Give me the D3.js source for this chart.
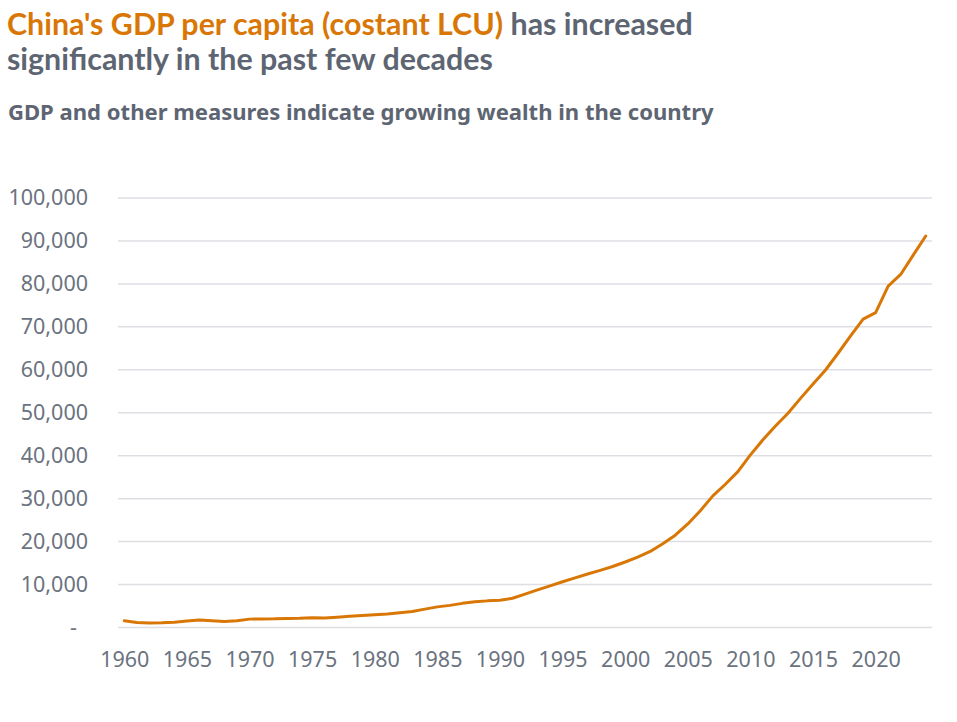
<!DOCTYPE html>
<html>
<head>
<meta charset="utf-8">
<script src="https://cdn.jsdelivr.net/npm/d3@7"></script>
<style>
  html, body { margin: 0; padding: 0; background: #fff; }
  svg { display: block; }
</style>
</head>
<body>
<svg id="chart" width="957" height="722"></svg>
<script>
const years = d3.range(1960, 2025);
const gdpPerCapita = [
  1580, 1150, 1030, 1100, 1250, 1500, 1750, 1580, 1400, 1550,
  1950, 2000, 2010, 2120, 2150, 2260, 2230, 2390, 2600, 2800,
  2980, 3120, 3420, 3730, 4280, 4800, 5150, 5620, 5980, 6200,
  6350, 6800, 7780, 8750, 9700, 10650, 11550, 12450, 13300, 14200,
  15250, 16400, 17700, 19500, 21500, 24100, 27200, 30650, 33350, 36300,
  40200, 43700, 46900, 49900, 53350, 56700, 59950, 63850, 67900, 71800,
  73300, 79500, 82200, 86700, 91150
];
const yTicks = [0, 10000, 20000, 30000, 40000, 50000, 60000, 70000, 80000, 90000, 100000];
const xTicks = [1960, 1965, 1970, 1975, 1980, 1985, 1990, 1995, 2000, 2005, 2010, 2015, 2020];

const titleOrange = "China's GDP per capita (costant LCU)";
const titleRest1 = " has increased";
const titleLine2 = "significantly in the past few decades";
const subtitle = "GDP and other measures indicate growing wealth in the country";

const ORANGE = "#d97706";
const GRAY = "#5d6572";
const TICK = "#6b7380";
const GRID = "#dedfe4";

const data = years.map((y, i) => ({ year: y, value: gdpPerCapita[i] }));

const svg = d3.select("#chart");
const plotLeft = 118, plotRight = 932, plotTop = 198, plotBottom = 627.5;

const x = d3.scalePoint().domain(years).range([plotLeft, plotRight]).padding(0.5);
const y = d3.scaleLinear().domain([0, 100000]).range([plotBottom, plotTop]);

// Titles
function fit(sel, target) {
  const w = sel.node().getComputedTextLength();
  const fs = parseFloat(sel.attr("font-size"));
  sel.attr("font-size", fs * target / w);
}
const t1 = svg.append("text")
  .attr("x", 7).attr("y", 35)
  .attr("font-family", "Lato, 'Open Sans', sans-serif")
  .attr("font-weight", 700).attr("font-size", 29);
t1.append("tspan").attr("fill", ORANGE).text(titleOrange);
t1.append("tspan").attr("fill", GRAY).text(titleRest1);
fit(t1, 686);
svg.append("text")
  .attr("x", 7).attr("y", 70)
  .attr("font-family", "Lato, 'Open Sans', sans-serif")
  .attr("font-weight", 700).attr("font-size", t1.attr("font-size"))
  .attr("fill", GRAY).text(titleLine2);

const st = svg.append("text")
  .attr("x", 8).attr("y", 120)
  .attr("font-family", "'Noto Sans', 'Open Sans', sans-serif")
  .attr("font-weight", 700).attr("font-size", 21)
  .attr("fill", GRAY).text(subtitle);
fit(st, 706);

// Gridlines
svg.append("g").selectAll("line").data(yTicks).join("line")
  .attr("x1", plotLeft).attr("x2", plotRight)
  .attr("y1", d => y(d)).attr("y2", d => y(d))
  .attr("stroke", GRID).attr("stroke-width", 1.5);

// Y axis
const yAxis = svg.append("g")
  .attr("transform", `translate(${plotLeft - 30},0)`)
  .call(d3.axisLeft(y).tickValues(yTicks).tickSize(0).tickPadding(0)
    .tickFormat(d => d === 0 ? "-" : d3.format(",")(d)));
yAxis.select(".domain").remove();
yAxis.selectAll("text")
  .attr("font-family", "'Noto Sans', 'Open Sans', sans-serif")
  .attr("font-size", 21.5)
  .attr("fill", TICK)
  .attr("x", d => d === 0 ? -11 : 0);

// X axis
const xAxis = svg.append("g")
  .attr("transform", `translate(0,${plotBottom + 24})`)
  .call(d3.axisBottom(x).tickValues(xTicks).tickSize(0).tickPadding(0));
xAxis.select(".domain").remove();
xAxis.selectAll("text")
  .attr("font-family", "'Noto Sans', 'Open Sans', sans-serif")
  .attr("font-size", 21.5)
  .attr("fill", TICK);

// Line
svg.append("path").datum(data)
  .attr("fill", "none")
  .attr("stroke", ORANGE)
  .attr("stroke-width", 3)
  .attr("stroke-linejoin", "round")
  .attr("stroke-linecap", "round")
  .attr("d", d3.line().x(d => x(d.year)).y(d => y(d.value)));
</script>
</body>
</html>
